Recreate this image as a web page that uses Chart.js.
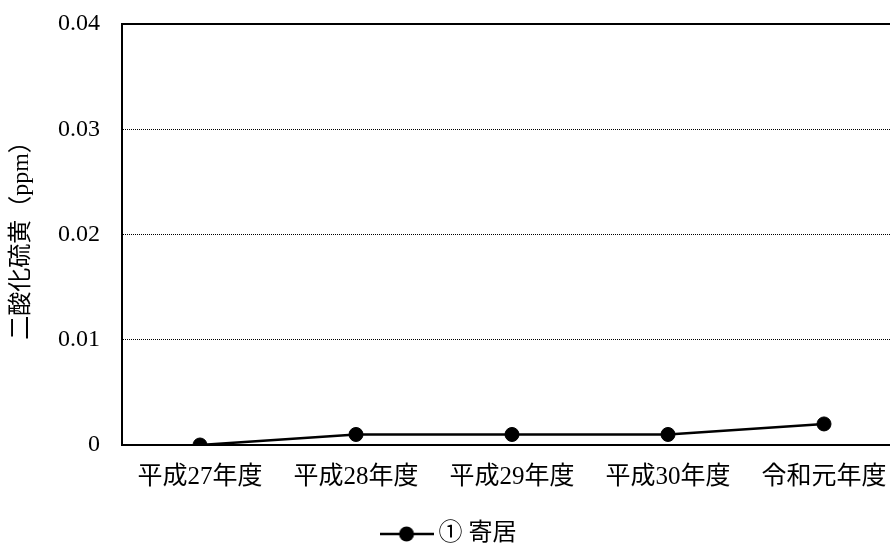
<!DOCTYPE html>
<html lang="ja">
<head>
<meta charset="utf-8">
<title>二酸化硫黄</title>
<script src="https://cdn.jsdelivr.net/npm/chart.js@4/dist/chart.umd.min.js"></script>
<style>
  html, body { margin: 0; padding: 0; background: #fff; overflow: hidden; }
  canvas { display: block; }
</style>
</head>
<body>
<canvas id="so2-chart" width="910" height="556"></canvas>
<script>
// Annual values
const years = ['平成27年度', '平成28年度', '平成29年度', '平成30年度', '令和元年度'];
const yoriiValues = [0, 0.001, 0.001, 0.001, 0.002];
const seriesName = '① 寄居';
const yTitle = '二酸化硫黄（ppm）';
const yMin = 0;
const yMax = 0.04;
const yStep = 0.01;

const fontFamily = "'Liberation Serif', 'Noto Sans CJK JP', serif";
const textColor = '#000';

// Legend symbol: line with a dot in the middle
function makeLegendSymbol() {
  const c = document.createElement('canvas');
  c.width = 54;
  c.height = 16;
  const g = c.getContext('2d');
  g.strokeStyle = '#000';
  g.lineWidth = 2.5;
  g.beginPath();
  g.moveTo(0, 8);
  g.lineTo(54, 8);
  g.stroke();
  g.fillStyle = '#000';
  g.beginPath();
  g.arc(27, 8, 7.5, 0, Math.PI * 2);
  g.fill();
  return c;
}

// top grid line is the solid frame edge, the others are dotted
function isTopTick(c) {
  return c.type === 'tick' && c.tick && c.tick.value === yMax;
}

const legendSymbol = makeLegendSymbol();
const ctx = document.getElementById('so2-chart').getContext('2d');

new Chart(ctx, {
  type: 'line',
  data: {
    labels: years,
    datasets: [{
      label: seriesName,
      data: yoriiValues,
      borderColor: '#000',
      backgroundColor: '#000',
      borderWidth: 2.5,
      pointRadius: 7,
      pointBorderWidth: 1,
      pointBackgroundColor: '#000',
      pointBorderColor: '#000',
      tension: 0,
      fill: false
    }]
  },
  options: {
    responsive: false,
    animation: false,
    devicePixelRatio: 1,
    layout: {
      padding: { top: 24, right: 7, left: 0, bottom: 0 }
    },
    scales: {
      x: {
        offset: true,
        grid: { drawOnChartArea: false, drawTicks: false },
        border: { display: true, color: '#000', width: 2 },
        ticks: {
          color: textColor,
          padding: 17,
          maxRotation: 0,
          autoSkip: false,
          font: { family: fontFamily, size: 25 }
        },
        afterFit: function(scale) { scale.height = 67; }
      },
      y: {
        min: yMin,
        max: yMax,
        grid: {
          // invisible tick marks keep the labels away from the axis
          drawTicks: true,
          tickLength: 22,
          tickColor: 'rgba(0,0,0,0)',
          color: function(c) { return c.tick && c.tick.value === yMin ? 'rgba(0,0,0,0)' : '#000'; },
          lineWidth: function(c) { return isTopTick(c) ? 2 : 1; }
        },
        border: {
          display: true,
          color: '#000',
          width: 2,
          dash: function(c) {
            if (c.type !== 'tick' || isTopTick(c)) return [];
            return [1, 1];
          }
        },
        ticks: {
          stepSize: yStep,
          color: textColor,
          padding: 0,
          font: { family: fontFamily, size: 24 },
          callback: function(value) { return value === 0 ? '0' : value.toFixed(2); }
        },
        title: {
          display: true,
          text: yTitle,
          color: textColor,
          padding: { top: 7, bottom: 0 },
          font: { family: fontFamily, size: 24 }
        },
        afterFit: function(scale) { scale.width = 122; }
      }
    },
    plugins: {
      legend: {
        position: 'bottom',
        labels: {
          color: textColor,
          usePointStyle: true,
          pointStyleWidth: 40,
          padding: 10,
          font: { family: fontFamily, size: 24 },
          generateLabels: function(chart) {
            return chart.data.datasets.map(function(ds, i) {
              return {
                text: ds.label,
                pointStyle: legendSymbol,
                fillStyle: '#000',
                strokeStyle: '#000',
                lineWidth: 0,
                fontColor: textColor,
                hidden: false,
                datasetIndex: i
              };
            });
          }
        }
      },
      tooltip: { enabled: false }
    }
  }
});
</script>
</body>
</html>
